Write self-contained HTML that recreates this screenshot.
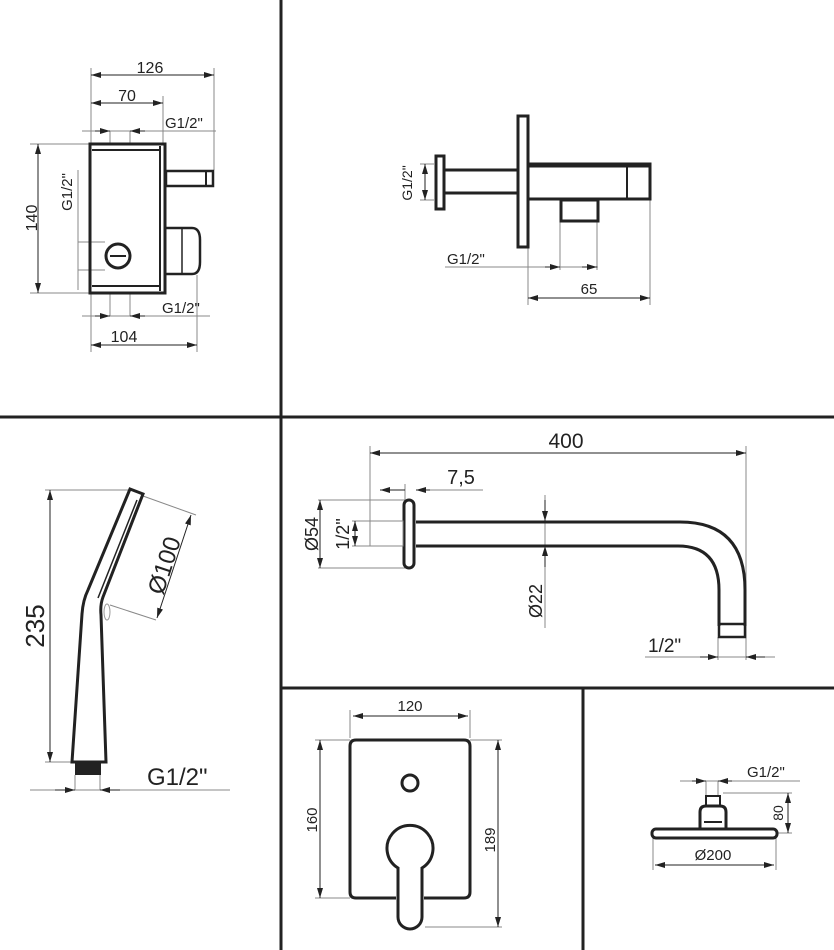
<!DOCTYPE html>
<html><head><meta charset="utf-8"><style>
html,body{margin:0;padding:0;background:#fff}
svg{display:block}
text{font-family:"Liberation Sans",sans-serif;fill:#222}
</style></head><body>
<svg width="834" height="950" viewBox="0 0 834 950" xmlns="http://www.w3.org/2000/svg">
<defs>
<marker id="a" markerWidth="10" markerHeight="6" refX="10" refY="3" orient="auto-start-reverse" markerUnits="userSpaceOnUse"><path d="M0,0 L10,3 L0,6 z" fill="#222"/></marker>
</defs>
<g stroke="#222" stroke-width="3">
<line x1="281" y1="0" x2="281" y2="950"/>
<line x1="0" y1="417" x2="834" y2="417"/>
<line x1="281" y1="688" x2="834" y2="688"/>
<line x1="583" y1="688" x2="583" y2="950"/>
</g>

<!-- Panel 1 -->
<g fill="none" stroke="#888" stroke-width="1">
<line x1="91" y1="68" x2="91" y2="352"/>
<line x1="214" y1="68" x2="214" y2="170"/>
<line x1="163" y1="96" x2="163" y2="143"/>
<line x1="82" y1="131" x2="216" y2="131"/>
<line x1="30" y1="144" x2="90" y2="144"/>
<line x1="30" y1="293" x2="90" y2="293"/>
<line x1="197" y1="275" x2="197" y2="352"/>
<line x1="82" y1="316" x2="210" y2="316"/>
<line x1="110" y1="131" x2="110" y2="144"/><line x1="130" y1="131" x2="130" y2="144"/>
<line x1="110" y1="294" x2="110" y2="316"/><line x1="130" y1="294" x2="130" y2="316"/>
<line x1="78" y1="170" x2="78" y2="290"/>
<line x1="78" y1="242" x2="105" y2="242"/><line x1="78" y1="270" x2="105" y2="270"/>
</g>
<g stroke="#222" stroke-width="1" fill="none">
<line x1="91" y1="75" x2="214" y2="75" marker-start="url(#a)" marker-end="url(#a)"/>
<line x1="91" y1="103" x2="163" y2="103" marker-start="url(#a)" marker-end="url(#a)"/>
<line x1="38" y1="144" x2="38" y2="293" marker-start="url(#a)" marker-end="url(#a)"/>
<line x1="91" y1="345" x2="197" y2="345" marker-start="url(#a)" marker-end="url(#a)"/>
<line x1="95" y1="131" x2="110" y2="131" marker-end="url(#a)"/>
<line x1="145" y1="131" x2="130" y2="131" marker-end="url(#a)"/>
<line x1="95" y1="316" x2="110" y2="316" marker-end="url(#a)"/>
<line x1="145" y1="316" x2="130" y2="316" marker-end="url(#a)"/>
</g>
<g fill="none" stroke="#222">
<rect x="90" y="144" width="75" height="149" stroke-width="3"/>
<line x1="92" y1="150" x2="160" y2="150" stroke-width="2"/>
<line x1="92" y1="286" x2="160" y2="286" stroke-width="2"/>
<line x1="160" y1="146" x2="160" y2="291" stroke-width="2"/>
<rect x="166" y="171" width="47" height="15" stroke-width="2.5"/>
<line x1="206" y1="171" x2="206" y2="186" stroke-width="2"/>
<path d="M166,228 H192 Q200,228 200,240 V262 Q200,274 192,274 H166" stroke-width="2.5"/>
<line x1="182" y1="228" x2="182" y2="274" stroke-width="1.5"/>
<circle cx="118" cy="256" r="12" stroke-width="3"/>
<line x1="110" y1="256" x2="126" y2="256" stroke-width="2"/>
</g>
<text x="150" y="73" font-size="16" text-anchor="middle">126</text>
<text x="127" y="101" font-size="16" text-anchor="middle">70</text>
<text x="165" y="128" font-size="15">G1/2"</text>
<text x="162" y="313" font-size="15">G1/2"</text>
<text x="124" y="342" font-size="16" text-anchor="middle">104</text>
<text transform="translate(37,218) rotate(-90)" font-size="16" text-anchor="middle">140</text>
<text transform="translate(72,192) rotate(-90)" font-size="15" text-anchor="middle">G1/2"</text>

<!-- Panel 2 -->
<g fill="none" stroke="#888" stroke-width="1">
<line x1="528" y1="247" x2="528" y2="305"/>
<line x1="650" y1="200" x2="650" y2="305"/>
<line x1="560" y1="222" x2="560" y2="270"/>
<line x1="597" y1="222" x2="597" y2="270"/>
<line x1="445" y1="267" x2="598" y2="267"/>
<line x1="420" y1="164" x2="434" y2="164"/><line x1="420" y1="200" x2="434" y2="200"/>
</g>
<g stroke="#222" stroke-width="1">
<line x1="528" y1="298" x2="650" y2="298" marker-start="url(#a)" marker-end="url(#a)"/>
<line x1="545" y1="267" x2="560" y2="267" marker-end="url(#a)"/>
<line x1="582" y1="267" x2="597" y2="267" marker-end="url(#a)"/>
<line x1="425" y1="164" x2="425" y2="200" marker-start="url(#a)" marker-end="url(#a)"/>
</g>
<g fill="none" stroke="#222">
<rect x="518" y="116" width="10" height="131" stroke-width="3"/>
<line x1="445" y1="170" x2="518" y2="170" stroke-width="3"/>
<line x1="445" y1="193" x2="518" y2="193" stroke-width="3"/>
<rect x="436" y="156" width="8" height="53" stroke-width="3"/>
<path d="M528,164 H650 V199 H528" stroke-width="3"/>
<line x1="528" y1="165" x2="650" y2="165" stroke-width="5"/>
<line x1="627" y1="165" x2="627" y2="199" stroke-width="2"/>
<rect x="561" y="200" width="37" height="21" stroke-width="3"/>
</g>
<text x="447" y="264" font-size="15">G1/2"</text>
<text x="589" y="294" font-size="15" text-anchor="middle">65</text>
<text transform="translate(412,183) rotate(-90)" font-size="14" text-anchor="middle">G1/2"</text>

<!-- Panel 3 -->
<g fill="none" stroke="#888" stroke-width="1">
<line x1="45" y1="490" x2="130" y2="490"/>
<line x1="45" y1="762" x2="74" y2="762"/>
<line x1="143" y1="496" x2="196" y2="515"/>
<line x1="110" y1="605" x2="156" y2="620"/>
<line x1="30" y1="790" x2="230" y2="790"/>
<line x1="75" y1="775" x2="75" y2="790"/><line x1="100" y1="775" x2="100" y2="790"/>
</g>
<g stroke="#222" stroke-width="1">
<line x1="50" y1="490" x2="50" y2="762" marker-start="url(#a)" marker-end="url(#a)"/>
<line x1="191" y1="515" x2="157" y2="618" marker-start="url(#a)" marker-end="url(#a)"/>
<line x1="55" y1="790" x2="75" y2="790" marker-end="url(#a)"/>
<line x1="120" y1="790" x2="100" y2="790" marker-end="url(#a)"/>
</g>
<g fill="none" stroke="#222" stroke-width="3">
<path d="M130,489 L143,494 L103,597 Q100,605 101,615 L106,762 L72,762 L82,614 Q83,600 88,590 Z"/>
<line x1="137" y1="500" x2="98" y2="598" stroke-width="1.5"/>
</g>
<rect x="75" y="763" width="26" height="12" fill="#222"/>
<ellipse cx="107" cy="612" rx="3" ry="8" fill="none" stroke="#999" stroke-width="1"/>
<text transform="translate(44,626) rotate(-90)" font-size="26" text-anchor="middle">235</text>
<text transform="translate(172,568) rotate(-72)" font-size="24" text-anchor="middle">Ø100</text>
<text x="147" y="785" font-size="24">G1/2"</text>

<!-- Panel 4 -->
<g fill="none" stroke="#888" stroke-width="1">
<line x1="370" y1="446" x2="370" y2="521"/>
<line x1="746" y1="446" x2="746" y2="660"/>
<line x1="718" y1="637" x2="718" y2="660"/>
<line x1="405" y1="484" x2="405" y2="500"/>
<line x1="420" y1="490" x2="483" y2="490"/>
<line x1="318" y1="500" x2="405" y2="500"/><line x1="318" y1="568" x2="405" y2="568"/>
<line x1="352" y1="521" x2="372" y2="521"/><line x1="352" y1="546" x2="372" y2="546"/>
<line x1="545" y1="495" x2="545" y2="628"/>
<line x1="645" y1="657" x2="775" y2="657"/>
</g>
<g stroke="#222" stroke-width="1">
<line x1="370" y1="453" x2="746" y2="453" marker-start="url(#a)" marker-end="url(#a)"/>
<line x1="380" y1="490" x2="405" y2="490" marker-start="url(#a)"/>
<line x1="430" y1="490" x2="416" y2="490" marker-end="url(#a)"/>
<line x1="320" y1="500" x2="320" y2="568" marker-start="url(#a)" marker-end="url(#a)"/>
<line x1="355" y1="521" x2="355" y2="546" marker-start="url(#a)" marker-end="url(#a)"/>
<line x1="545" y1="500" x2="545" y2="521" marker-end="url(#a)"/>
<line x1="545" y1="567" x2="545" y2="546" marker-end="url(#a)"/>
<line x1="700" y1="657" x2="718" y2="657" marker-end="url(#a)"/>
<line x1="765" y1="657" x2="746" y2="657" marker-end="url(#a)"/>
</g>
<g fill="none" stroke="#222" stroke-width="3">
<rect x="404" y="500" width="10" height="68" rx="5"/>
<path d="M416,522 H680 Q745,522 745,590 V626"/>
<path d="M416,546 H678 Q719,546 719,590 V626"/>
<rect x="719" y="624" width="26" height="13" stroke-width="2.5"/>
</g>
<rect x="370" y="521" width="33" height="25" fill="none" stroke="#888" stroke-width="1"/>
<text x="566" y="448" font-size="21" text-anchor="middle">400</text>
<text x="461" y="484" font-size="20" text-anchor="middle">7,5</text>
<text transform="translate(318,534) rotate(-90)" font-size="18" text-anchor="middle">Ø54</text>
<text transform="translate(349,534) rotate(-90)" font-size="18" text-anchor="middle">1/2"</text>
<text transform="translate(542,601) rotate(-90)" font-size="18" text-anchor="middle">Ø22</text>
<text x="648" y="652" font-size="19">1/2"</text>

<!-- Panel 5 -->
<g fill="none" stroke="#888" stroke-width="1">
<line x1="350" y1="710" x2="350" y2="738"/>
<line x1="470" y1="710" x2="470" y2="738"/>
<line x1="315" y1="740" x2="350" y2="740"/>
<line x1="315" y1="898" x2="350" y2="898"/>
<line x1="470" y1="740" x2="502" y2="740"/>
<line x1="425" y1="927" x2="502" y2="927"/>
</g>
<g stroke="#222" stroke-width="1">
<line x1="353" y1="716" x2="468" y2="716" marker-start="url(#a)" marker-end="url(#a)"/>
<line x1="320" y1="740" x2="320" y2="898" marker-start="url(#a)" marker-end="url(#a)"/>
<line x1="498" y1="740" x2="498" y2="927" marker-start="url(#a)" marker-end="url(#a)"/>
</g>
<g fill="none" stroke="#222" stroke-width="3">
<path d="M396,898 H356 Q350,898 350,892 V746 Q350,740 356,740 H464 Q470,740 470,746 V892 Q470,898 464,898 H424"/>
<circle cx="410" cy="783" r="8"/>
<path d="M398,868 A23,23 0 1 1 422,868 V917 A12,12 0 0 1 398,917 Z"/>
</g>
<text x="410" y="711" font-size="15" text-anchor="middle">120</text>
<text transform="translate(317,820) rotate(-90)" font-size="15" text-anchor="middle">160</text>
<text transform="translate(495,840) rotate(-90)" font-size="15" text-anchor="middle">189</text>

<!-- Panel 6 -->
<g fill="none" stroke="#888" stroke-width="1">
<line x1="680" y1="781" x2="800" y2="781"/>
<line x1="706" y1="781" x2="706" y2="795"/><line x1="718" y1="781" x2="718" y2="795"/>
<line x1="723" y1="793" x2="792" y2="793"/>
<line x1="778" y1="833" x2="792" y2="833"/>
<line x1="653" y1="838" x2="653" y2="870"/>
<line x1="776" y1="838" x2="776" y2="870"/>
</g>
<g stroke="#222" stroke-width="1">
<line x1="692" y1="781" x2="706" y2="781" marker-end="url(#a)"/>
<line x1="732" y1="781" x2="718" y2="781" marker-end="url(#a)"/>
<line x1="788" y1="793" x2="788" y2="833" marker-start="url(#a)" marker-end="url(#a)"/>
<line x1="655" y1="865" x2="774" y2="865" marker-start="url(#a)" marker-end="url(#a)"/>
</g>
<g fill="none" stroke="#222">
<rect x="652" y="829" width="125" height="9" rx="4" stroke-width="3"/>
<path d="M700,829 V812 Q700,806 706,806 H720 Q726,806 726,812 V829" stroke-width="3"/>
<rect x="706" y="796" width="14" height="10" stroke-width="2"/>
<line x1="704" y1="822" x2="722" y2="822" stroke-width="2"/>
</g>
<text x="747" y="777" font-size="15">G1/2"</text>
<text transform="translate(783,813) rotate(-90)" font-size="14" text-anchor="middle">80</text>
<text x="713" y="860" font-size="15" text-anchor="middle">Ø200</text>
</svg>
</body></html>
